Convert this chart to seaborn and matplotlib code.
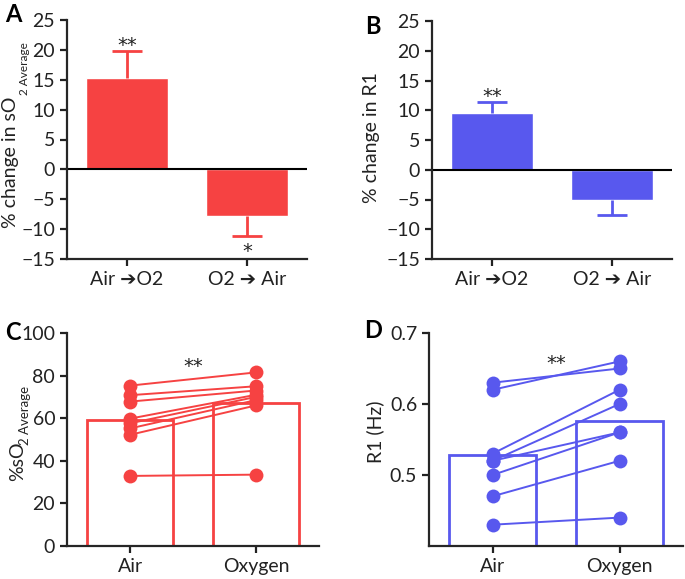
import numpy as np
import pandas as pd
import matplotlib.pyplot as plt
import seaborn as sns

# ======================
# Data
# ======================

change_cats = ['Air \u2794O2', 'O2 \u2794 Air']

so2_change = [15.3, -7.8]
so2_err = [4.5, 3.4]

r1_change = [9.5, -5.0]
r1_err = [1.9, 2.6]

conditions = ['Air', 'Oxygen']

so2_air = [75.3, 70.8, 67.8, 59.8, 57.6, 55.2, 52.2, 32.9]
so2_oxygen = [81.5, 75.0, 73.0, 71.0, 70.0, 68.5, 66.0, 33.5]

r1_air = [0.63, 0.62, 0.53, 0.52, 0.52, 0.50, 0.47, 0.43]
r1_oxygen = [0.65, 0.66, 0.62, 0.60, 0.56, 0.56, 0.52, 0.44]

RED = '#F64242'
BLUE = '#5858EE'

# ======================
# Style
# ======================

sns.set_style('ticks')
plt.rcParams['font.family'] = ['Lato', 'DejaVu Sans']
plt.rcParams['axes.linewidth'] = 1.6
plt.rcParams['xtick.major.width'] = 1.6
plt.rcParams['ytick.major.width'] = 1.6
plt.rcParams['xtick.major.size'] = 5
plt.rcParams['ytick.major.size'] = 5
plt.rcParams['xtick.labelsize'] = 14
plt.rcParams['ytick.labelsize'] = 14
plt.rcParams['text.color'] = '#222222'
plt.rcParams['xtick.color'] = '#222222'
plt.rcParams['ytick.color'] = '#222222'

W, H = 685, 579
fig = plt.figure(figsize=(W / 100, H / 100), dpi=100)


def px_axes(left, right, top, bottom):
    return fig.add_axes([left / W, 1 - bottom / H, (right - left) / W, (bottom - top) / H])


def px_text(x, y, s, **kw):
    # text placed in figure pixel coordinates (y from top)
    return fig.text(x / W, 1 - y / H, s, **kw)


ax_a = px_axes(67, 307, 20, 259)
ax_b = px_axes(432, 672, 21, 259)
ax_c = px_axes(67, 319, 333, 546)
ax_d = px_axes(429, 683, 333, 546)

# ======================
# Change panels (A, B)
# ======================


def change_panel(ax, vals, errs, color):
    sns.barplot(x=change_cats, y=vals, color=color, saturation=1,
                width=0.68, errorbar=None, ax=ax)
    # one-sided error bars: up for positive bars, down for negative ones
    xs = np.arange(len(vals))
    ends = [v + e if v >= 0 else v - e for v, e in zip(vals, errs)]
    ax.vlines(xs, vals, ends, color=color, lw=2)
    ax.hlines(ends, xs - 0.125, xs + 0.125, color=color, lw=2)
    ax.axhline(0, color='black', lw=1.5)
    ax.set_ylim(-15, 25)
    ax.set_xlim(-0.5, 1.5)
    ax.set_yticks(np.arange(-15, 26, 5))
    ax.set_ylabel('')
    ax.set_xlabel('')
    sns.despine(ax=ax)
    return ends


ends_a = change_panel(ax_a, so2_change, so2_err, RED)
ends_b = change_panel(ax_b, r1_change, r1_err, BLUE)

star = dict(ha='center', va='center', fontsize=14, family='DejaVu Sans',
            textcoords='offset points')
ax_a.annotate('**', (0, ends_a[0]), xytext=(0, 4), **star)
ax_a.annotate('*', (1, ends_a[1]), xytext=(0, -11), **star)
ax_b.annotate('**', (0, ends_b[0]), xytext=(0, 4), **star)

# y labels with the small "2 Average" subscript
px_text(11, 228, '% change in sO', rotation=90, ha='center', va='bottom', fontsize=14)
px_text(25, 95, '2 Average', rotation=90, ha='center', va='bottom', fontsize=8.5)
px_text(371, 138, '% change in R1', rotation=90, ha='center', va='center', fontsize=14)

# ======================
# Paired panels (C, D)
# ======================


def paired_panel(ax, air, oxy, color):
    df = pd.DataFrame({
        'subject': list(range(len(air))) * 2,
        'cond': ['Air'] * len(air) + ['Oxygen'] * len(oxy),
        'value': air + oxy,
    })
    sns.barplot(data=df, x='cond', y='value', order=conditions, errorbar=None,
                fill=False, color=color, saturation=1, linewidth=2,
                width=0.68, ax=ax)
    sns.lineplot(data=df, x='cond', y='value', units='subject', estimator=None,
                 sort=False, color=color, lw=1.4, marker='o', markersize=10,
                 markeredgewidth=0, ax=ax)
    ax.set_xlim(-0.5, 1.5)
    ax.set_xlabel('')
    ax.set_ylabel('')
    sns.despine(ax=ax)


paired_panel(ax_c, so2_air, so2_oxygen, RED)
ax_c.set_ylim(0, 100)
ax_c.set_yticks([0, 20, 40, 60, 80, 100])
ax_c.text(0.5, 84.5, '**', ha='center', va='center', fontsize=14, family='DejaVu Sans')
px_text(18, 481, '%sO', rotation=90, ha='center', va='bottom', fontsize=14)
px_text(25, 445, '2 Average', rotation=90, ha='center', va='bottom', fontsize=9.5)

paired_panel(ax_d, r1_air, r1_oxygen, BLUE)
ax_d.set_ylim(0.4, 0.7)
ax_d.set_yticks([0.5, 0.6, 0.7])
ax_d.text(0.5, 0.657, '**', ha='center', va='center', fontsize=14, family='DejaVu Sans')
px_text(375, 432, 'R1 (Hz)', rotation=90, ha='center', va='center', fontsize=14)

# ======================
# Panel letters
# ======================

for label, (x, y) in zip('ABCD', [(13, 14), (373, 27), (13, 332), (373, 331)]):
    px_text(x, y, label, fontsize=17, fontweight='bold',
            ha='center', va='center', color='black')

fig.savefig('out.png', dpi=100)
